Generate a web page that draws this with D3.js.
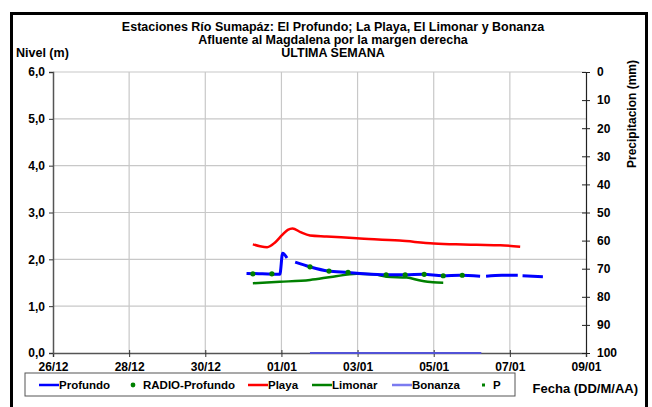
<!DOCTYPE html>
<html lang="es">
<head>
<meta charset="UTF-8">
<title>Estaciones Río Sumapáz</title>
<script src="https://d3js.org/d3.v7.min.js"></script>
<style>
  body { margin: 0; background: #fff; }
  svg { display: block; font-family: "Liberation Sans", Arial, sans-serif; font-weight: bold; }
</style>
</head>
<body>
<div id="chart"></div>
<script>
// --- data ---
const titleLines = [
  "Estaciones Río Sumapáz: El Profundo; La Playa, El Limonar y Bonanza",
  "Afluente al Magdalena por la margen derecha",
  "ULTIMA SEMANA"
];
const xTicks = ["2013-12-26", "2013-12-28", "2013-12-30", "2014-01-01", "2014-01-03", "2014-01-05", "2014-01-07", "2014-01-09"];
const yTicks = [0, 1, 2, 3, 4, 5, 6];
const pTicks = [0, 10, 20, 30, 40, 50, 60, 70, 80, 90, 100];

// null = gap in the record
const profundoTimes = ["2013-12-31T02:00", "2013-12-31T12:00", "2013-12-31T23:00", "2014-01-01T00:45", "2014-01-01T03:30", "2014-01-01T06:00",
  "2014-01-01T08:40", "2014-01-01T18:00", "2014-01-02T05:20", "2014-01-02T18:00", "2014-01-03T01:30", "2014-01-03T18:30",
  "2014-01-04T06:00", "2014-01-04T17:20", "2014-01-05T05:45", "2014-01-05T16:30", "2014-01-06T05:15", "2014-01-06T07:00",
  "2014-01-06T09:00", "2014-01-06T19:00", "2014-01-07T05:00", "2014-01-07T06:30", "2014-01-07T08:00", "2014-01-07T20:50"];
const profundoValues = [1.70, 1.69, 1.68, 2.13, 2.03, null,
  1.94, 1.84, 1.75, 1.72, 1.70, 1.67,
  1.67, 1.68, 1.65, 1.66, 1.64, null,
  1.64, 1.66, 1.66, null, 1.65, 1.63];

const radioTimes = ["2013-12-31T06:00", "2013-12-31T18:00", "2014-01-01T18:00", "2014-01-02T06:00", "2014-01-02T18:00",
  "2014-01-03T18:00", "2014-01-04T06:00", "2014-01-04T18:00", "2014-01-05T06:00", "2014-01-05T18:00"];
const radioValues = [1.69, 1.69, 1.84, 1.75, 1.72, 1.67, 1.67, 1.68, 1.65, 1.66];

const playaTimes = ["2013-12-31T06:00", "2013-12-31T10:30", "2013-12-31T15:00", "2013-12-31T20:00", "2014-01-01T00:30", "2014-01-01T04:00",
  "2014-01-01T07:00", "2014-01-01T12:00", "2014-01-01T18:00", "2014-01-02T04:30", "2014-01-02T23:30", "2014-01-04T02:30",
  "2014-01-05T00:00", "2014-01-05T14:00", "2014-01-06T03:00", "2014-01-06T18:00", "2014-01-07T06:30"];
const playaValues = [2.32, 2.28, 2.26, 2.36, 2.52, 2.63, 2.66, 2.58, 2.51, 2.49, 2.45, 2.40,
  2.34, 2.32, 2.31, 2.30, 2.27];

const limonarTimes = ["2013-12-31T06:00", "2013-12-31T23:00", "2014-01-01T18:00", "2014-01-02T08:30", "2014-01-02T23:30",
  "2014-01-03T10:00", "2014-01-03T18:30", "2014-01-04T07:00", "2014-01-04T15:30", "2014-01-04T23:30", "2014-01-05T06:00"];
const limonarValues = [1.49, 1.52, 1.56, 1.63, 1.69, 1.68, 1.63, 1.61, 1.55, 1.51, 1.50];

const bonanzaTimes = ["2014-01-01T18:00", "2014-01-06T06:00"];
const bonanzaValues = [0, 0];

const pTimes = [];
const pValues = [];

const legendItems = [
  { name: "Profundo", kind: "line", color: "#0000ff" },
  { name: "RADIO-Profundo", kind: "dot", color: "#008000" },
  { name: "Playa", kind: "line", color: "#ff0000" },
  { name: "Limonar", kind: "line", color: "#008000" },
  { name: "Bonanza", kind: "line", color: "#7b7bf0" },
  { name: "P", kind: "square", color: "#008000" }
];

// --- layout ---
const W = 652, H = 407;
const plot = { left: 53, right: 586, top: 72, bottom: 353 };
const parse = d3.timeParse("%Y-%m-%dT%H:%M");
const parseDay = d3.timeParse("%Y-%m-%d");

const svg = d3.select("#chart").append("svg")
  .attr("width", W).attr("height", H);

svg.append("rect").attr("width", W).attr("height", H).attr("fill", "#fff");

const x = d3.scaleTime()
  .domain([parseDay(xTicks[0]), parseDay(xTicks[xTicks.length - 1])])
  .range([plot.left, plot.right]);
const y = d3.scaleLinear().domain([0, 6]).range([plot.bottom, plot.top]);
const yP = d3.scaleLinear().domain([0, 100]).range([plot.top, plot.bottom]);

// gridlines
const grid = svg.append("g");
grid.selectAll("line.h").data(yTicks.slice(1)).join("line")
  .attr("x1", plot.left).attr("x2", plot.right)
  .attr("y1", d => y(d)).attr("y2", d => y(d))
  .attr("stroke", "#c8c8c8").attr("stroke-width", 1.2);
grid.selectAll("line.v").data(xTicks.slice(1, -1).map(parseDay)).join("line")
  .attr("x1", d => x(d)).attr("x2", d => x(d))
  .attr("y1", plot.top).attr("y2", plot.bottom)
  .attr("stroke", "#c8c8c8").attr("stroke-width", 1.2);

// axes
const fmtY = d => d3.format(".1f")(d).replace(".", ",");
const xAxis = svg.append("g")
  .attr("transform", `translate(0,${plot.bottom})`)
  .call(d3.axisBottom(x).tickValues(xTicks.map(parseDay)).tickFormat(d3.timeFormat("%d/%m")).tickSize(4).tickPadding(5));
const yAxis = svg.append("g")
  .attr("transform", `translate(${plot.left},0)`)
  .call(d3.axisLeft(y).tickValues(yTicks).tickFormat(fmtY).tickSize(4).tickPadding(4));
const pAxis = svg.append("g")
  .attr("transform", `translate(${plot.right},0)`)
  .call(d3.axisRight(yP).tickValues(pTicks).tickSize(4).tickPadding(7));

[xAxis, yAxis].forEach(a => {
  a.select(".domain").attr("stroke", "#555").attr("stroke-width", 1.5);
  a.selectAll(".tick line").attr("stroke", "#333");
});
pAxis.select(".domain").attr("stroke", "#222").attr("stroke-width", 1.2);
pAxis.selectAll(".tick line").attr("x1", -4).attr("stroke", "#222");
yAxis.selectAll(".tick line").attr("x2", -4);
xAxis.selectAll(".tick line").attr("y1", -3);
svg.selectAll(".tick text").attr("font-size", 12).attr("font-weight", "bold")
  .attr("font-family", "Liberation Sans, Arial, sans-serif").attr("fill", "#000");

// series
const line = d3.line()
  .defined(d => d.v != null)
  .x(d => x(d.t)).y(d => y(d.v))
  .curve(d3.curveMonotoneX);
const zip = (ts, vs) => ts.map((t, i) => ({ t: parse(t), v: vs[i] }));

svg.append("path").datum(zip(bonanzaTimes, bonanzaValues))
  .attr("d", line).attr("fill", "none").attr("stroke", "#5252d6").attr("stroke-width", 2);
svg.append("path").datum(zip(limonarTimes, limonarValues))
  .attr("d", line).attr("fill", "none").attr("stroke", "#008000").attr("stroke-width", 2.5);
svg.append("path").datum(zip(playaTimes, playaValues))
  .attr("d", line).attr("fill", "none").attr("stroke", "#ff0000").attr("stroke-width", 2.5);
svg.append("path").datum(zip(profundoTimes, profundoValues))
  .attr("d", line).attr("fill", "none").attr("stroke", "#0000ff").attr("stroke-width", 3);
svg.append("g").selectAll("circle").data(zip(radioTimes, radioValues)).join("circle")
  .attr("cx", d => x(d.t)).attr("cy", d => y(d.v)).attr("r", 2.6).attr("fill", "#008000");
svg.append("g").selectAll("rect").data(zip(pTimes, pValues)).join("rect")
  .attr("x", d => x(d.t) - 1.5).attr("y", d => yP(d.v) - 1.5)
  .attr("width", 3).attr("height", 3).attr("fill", "#008000");

// titles
const title = svg.append("text").attr("x", 333).attr("text-anchor", "middle")
  .attr("font-size", 12.5).attr("fill", "#000");
titleLines.forEach((t, i) => {
  title.append("tspan").attr("x", 333).attr("y", 31 + i * 13).text(t);
});
svg.append("text").attr("x", 16).attr("y", 57).attr("font-size", 12.5).text("Nivel (m)");
svg.append("text").attr("transform", "translate(636,114) rotate(-90)")
  .attr("text-anchor", "middle").attr("font-size", 12).text("Precipitacion (mm)");
svg.append("text").attr("x", 638).attr("y", 393).attr("text-anchor", "end")
  .attr("font-size", 13).text("Fecha (DD/M/AA)");

// legend
const lg = svg.append("g");
lg.append("rect").attr("x", 25).attr("y", 373).attr("width", 490).attr("height", 23)
  .attr("fill", "#fff").attr("stroke", "#555").attr("stroke-width", 1);
const legendX = [39, 128, 248, 312, 392, 478];
legendItems.forEach((d, i) => {
  const g = lg.append("g").attr("transform", `translate(${legendX[i]},385)`);
  if (d.kind === "line") {
    g.append("line").attr("x1", 0).attr("x2", 20).attr("stroke", d.color).attr("stroke-width", 2.5);
  } else if (d.kind === "dot") {
    g.append("circle").attr("cx", 5).attr("r", 2.4).attr("fill", d.color);
  } else {
    g.append("rect").attr("x", 4).attr("y", -1.5).attr("width", 3).attr("height", 3).attr("fill", d.color);
  }
  g.append("text").attr("x", d.kind === "line" ? 20 : 15).attr("y", 4)
    .attr("font-size", 11.5).text(d.name);
});

// outer frame
svg.append("rect").attr("x", 11.5).attr("y", 13.5).attr("width", 635).attr("height", 400)
  .attr("fill", "none").attr("stroke", "#000").attr("stroke-width", 3);
</script>
</body>
</html>
